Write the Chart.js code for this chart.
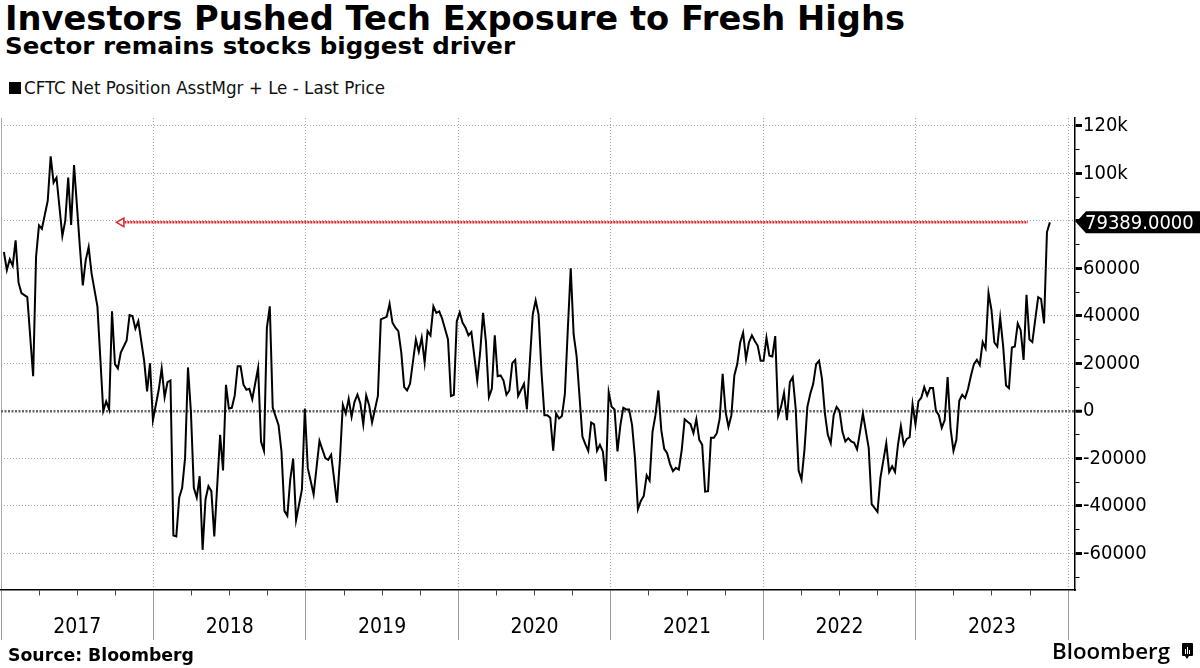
<!DOCTYPE html>
<html>
<head>
<meta charset="utf-8">
<script src="https://cdn.jsdelivr.net/npm/chart.js@4.4.0/dist/chart.umd.min.js"></script>
<style>
  body { margin: 0; width: 1200px; height: 668px; position: relative; overflow: hidden; background: #fff; font-family: "DejaVu Sans", sans-serif; color: #000; }
  .txt { position: absolute; white-space: nowrap; transform-origin: 0 0; }
  #title { left: 5px; top: 2px; font-size: 33px; line-height: 33px; font-weight: bold; }
  #subtitle { left: 5px; top: 35px; font-size: 23px; line-height: 23px; font-weight: bold; }
  #legendBox { position: absolute; left: 9px; top: 82px; width: 12px; height: 12px; background: #000; }
  #legend { left: 24px; top: 80px; font-size: 17px; line-height: 17px; color: #111; }
  #source { left: 8px; top: 646px; font-size: 18px; line-height: 18px; font-weight: bold; }
  #brand { left: 1052px; top: 641px; font-family: "Open Sans", sans-serif; font-size: 21px; line-height: 21px; font-weight: 600; }
  #brandIcon { position: absolute; left: 1182px; top: 643px; }
  #wrap { position: absolute; left: 0; top: 105px; width: 1200px; height: 545px; }
</style>
</head>
<body>
<div id="title" class="txt" data-fit="900">Investors Pushed Tech Exposure to Fresh Highs</div>
<div id="subtitle" class="txt" data-fit="510">Sector remains stocks biggest driver</div>
<div id="legendBox"></div>
<div id="legend" class="txt" data-fit="361">CFTC Net Position AsstMgr + Le - Last Price</div>
<div id="wrap"><canvas id="chart" width="1200" height="545"></canvas></div>
<div id="source" class="txt" data-fit="186">Source: Bloomberg</div>
<div id="brand" class="txt" data-fit="118">Bloomberg</div>
<svg id="brandIcon" width="11" height="17" viewBox="0 0 11 17">
  <path d="M1 0h9a1 1 0 0 1 1 1v11a1 1 0 0 1-1 1H7l-2 3-2-3H1a1 1 0 0 1-1-1V1a1 1 0 0 1 1-1z" fill="#000"/>
  <rect x="3" y="6" width="1" height="5" fill="#fff"/>
  <rect x="5" y="4" width="1" height="7" fill="#fff"/>
  <rect x="7" y="7" width="1" height="4" fill="#fff"/>
</svg>
<script>
// weekly CFTC readings, x = weeks since 1 Jan 2017
const weekIndex = [
  1, 2, 3, 4, 5, 6, 7, 9, 11, 12,
  13, 14, 16, 17, 18, 19, 21, 22, 23, 24,
  25, 27, 28, 29, 30, 31, 33, 35, 36, 37,
  38, 39, 40, 41, 43, 44, 45, 46, 47, 49,
  50, 51, 52, 54, 55, 56, 57, 58, 59, 60,
  61, 62, 63, 64, 65, 66, 67, 68, 69, 70,
  71, 72, 73, 75, 76, 77, 78, 79, 80, 81,
  82, 83, 84, 85, 86, 88, 89, 90, 91, 92,
  93, 95, 96, 97, 98, 99, 100, 101, 103, 104,
  105, 107, 109, 111, 112, 113, 115, 116, 117, 118,
  119, 120, 121, 122, 123, 124, 125, 126, 127, 129,
  130, 132, 133, 134, 135, 136, 137, 138, 139, 140,
  142, 143, 144, 145, 146, 147, 148, 149, 150, 151,
  153, 154, 155, 156, 157, 158, 159, 160, 161, 162,
  163, 164, 165, 166, 167, 168, 169, 170, 171, 172,
  173, 174, 175, 176, 177, 179, 180, 182, 183, 184,
  185, 186, 187, 188, 189, 190, 191, 192, 193, 194,
  195, 196, 197, 199, 200, 201, 202, 203, 204, 205,
  206, 207, 208, 209, 210, 211, 212, 213, 214, 215,
  216, 217, 218, 219, 220, 221, 222, 223, 224, 225,
  226, 227, 228, 229, 230, 231, 232, 233, 234, 235,
  236, 237, 238, 239, 240, 241, 242, 243, 244, 245,
  246, 247, 248, 249, 250, 251, 252, 253, 254, 255,
  256, 257, 258, 259, 260, 261, 262, 263, 264, 265,
  266, 267, 268, 269, 270, 271, 272, 273, 274, 275,
  276, 277, 278, 279, 280, 281, 282, 283, 284, 285,
  286, 287, 288, 289, 290, 291, 292, 293, 294, 295,
  297, 298, 300, 301, 303, 304, 305, 306, 307, 308,
  309, 310, 311, 312, 313, 314, 315, 316, 317, 318,
  319, 320, 321, 322, 323, 324, 325, 326, 327, 328,
  329, 330, 331, 332, 333, 334, 335, 336, 337, 338,
  339, 340, 341, 342, 343, 344, 345, 346, 347, 348,
  349, 350, 351, 352, 353, 354, 355, 356, 357, 358,
  359
]
const netPosition = [
  66900, 59300, 63900, 61100, 71800, 54000, 49600, 47900, 14600, 64900,
  78100, 76700, 88500, 107200, 96100, 98200, 73600, 80100, 98200, 78300,
  103500, 69000, 52800, 63500, 69000, 57900, 44000, 0, 4000, 600,
  41900, 19700, 17900, 24600, 29700, 40300, 39900, 34600, 37800, 21100,
  8200, 20000, -3900, 9000, 17900, 5800, 12100, 12800, -52500, -52900,
  -36500, -32400, -19900, 18300, -400, -32400, -36500, -27500, -58500, -37200,
  -31700, -33800, -52900, -10100, -25100, 11000, 1000, 1300, 6500, 18800,
  18800, 11000, 8900, 9300, 4900, 18100, -12900, -16800, 35000, 44000,
  1400, -6000, -17100, -42100, -44200, -28900, -20100, -46000, -33100, 1000,
  -24000, -35100, -12600, -19900, -20600, -18500, -38600, -20600, 2600, -1100,
  5100, -2500, 3800, 6800, 3100, -5700, 6500, 2400, -4900, 6300,
  38500, 39600, 45100, 37100, 35000, 33600, 24600, 10000, 8600, 11400,
  30100, 24900, 30800, 20400, 33600, 31800, 44000, 41300, 41900, 38800,
  30100, 6300, 6800, 37800, 41500, 37100, 35000, 31800, 33200, 23200,
  12800, 24600, 41300, 28800, 5800, 9300, 31800, 14600, 14900, 12800,
  6800, 8600, 20100, 21500, 6300, 11400, 600, 40600, 46500, 40600,
  16300, -1800, -1800, -2900, -16800, -1100, -3200, -2100, 7200, 34300,
  60000, 32200, 23200, -10800, -14000, -16800, -4900, -5700, -16800, -14300,
  -17100, -29600, 7900, 1700, 600, -17100, -6000, 1300, 600, 600,
  -6000, -19900, -41400, -37900, -35800, -27100, -29300, -8800, -1800, 8600,
  -8100, -16000, -17800, -22400, -25400, -24000, -24700, -16400, -3500, -4600,
  -5600, -9400, -3500, -12200, -14300, -34000, -33800, -11300, -11300, -9400,
  -3200, 15600, -400, -6700, -1800, 14900, 19700, 28800, 32900, 21800,
  28800, 31800, 29400, 27400, 21100, 21100, 30800, 23200, 22900, 31500,
  -2100, 1700, 7600, -3900, 12100, 14200, 1000, -25100, -28900, -16400,
  1700, 7200, 11400, 19700, 21100, 13500, -1100, -10100, -13600, -1800,
  1700, 0, -8800, -12900, -11500, -12900, -13400, -16200, -9000, -1100,
  -15700, -39300, -42500, -28200, -13600, -25700, -23300, -25700, -14300, -6400,
  -14300, -11800, -11100, 2800, -5700, 4000, 5600, 10000, 6500, 9600,
  9600, 0, -1800, -7100, -3900, 14200, -7400, -16800, -12200, 4400,
  6800, 5400, 9300, 14900, 19700, 21500, 19300, 29000, 26300, 49600,
  42600, 28800, 27100, 39200, 27400, 10700, 9600, 26700, 27100, 36800,
  34000, 21500, 48900, 30100, 29000, 38500, 47900, 47100, 36800, 75300,
  79389
]
const yearLabels = ['2017', '2018', '2019', '2020', '2021', '2022', '2023']
const yTickValues = [-70000, -60000, -50000, -40000, -30000, -20000, -10000, 0, 10000, 20000,
  30000, 40000, 50000, 60000, 70000, 80000, 90000, 100000, 110000, 120000]
// dotted "last seen at this level" line
const refLineWeeks = [41.2, 351.5]

const WEEKS_PER_YEAR = 52.1786
const lastValue = netPosition[netPosition.length - 1]

function hasFont(name) {
  const c = document.createElement('canvas').getContext('2d')
  const s = '0123456789 abcdefghijklm'
  let diff = false
  for (const fb of ['monospace', 'serif']) {
    c.font = '40px ' + fb
    const a = c.measureText(s).width
    c.font = '40px "' + name + '", ' + fb
    if (c.measureText(s).width !== a) diff = true
  }
  return diff
}
const axisFont = hasFont('DejaVu Sans Condensed') ? '"DejaVu Sans Condensed"' : '"Liberation Sans"'
document.getElementById('legend').style.fontFamily = axisFont + ', "DejaVu Sans"'

// squeeze text boxes to the widths of the original
document.querySelectorAll('[data-fit]').forEach(el => {
  const w = el.getBoundingClientRect().width
  el.style.transform = 'scaleX(' + (Number(el.dataset.fit) / w) + ')'
})

// 0 = year boundary, 2 = mid-year (label), 1/3 = quarter
function tickKind(v) {
  return ((Math.round(v / WEEKS_PER_YEAR * 4) % 4) + 4) % 4
}

const lastPriceTag = {
  id: 'lastPriceTag',
  afterDraw(chart) {
    const ctx = chart.ctx
    const ys = chart.scales.y
    const y = ys.getPixelForValue(lastValue)
    const x = ys.left + 1
    ctx.save()
    ctx.fillStyle = '#000'
    ctx.beginPath()
    ctx.moveTo(x, y)
    ctx.lineTo(x + 10, y - 11)
    ctx.lineTo(chart.width, y - 11)
    ctx.lineTo(chart.width, y + 11)
    ctx.lineTo(x + 10, y + 11)
    ctx.closePath()
    ctx.fill()
    ctx.fillStyle = '#fff'
    ctx.font = '20px ' + axisFont
    ctx.textBaseline = 'middle'
    ctx.fillText(lastValue.toFixed(4), x + 9, y + 1)
    ctx.restore()
  }
}

new Chart(document.getElementById('chart'), {
  type: 'line',
  data: {
    datasets: [{
      label: 'CFTC Net Position AsstMgr + Le - Last Price',
      data: weekIndex.map((w, i) => ({ x: w, y: netPosition[i] })),
      borderColor: '#000',
      borderWidth: 2,
      pointRadius: 0,
      tension: 0
    }, {
      label: 'ref',
      data: refLineWeeks.map(w => ({ x: w, y: lastValue })),
      borderColor: '#e0242c',
      borderWidth: 2.5,
      borderDash: [2, 1],
      pointRadius: [5, 0],
      pointStyle: 'triangle',
      pointRotation: -90,
      pointBorderColor: '#e0242c',
      pointBackgroundColor: '#fff',
      pointBorderWidth: 1.5
    }]
  },
  options: {
    responsive: false,
    animation: false,
    devicePixelRatio: 1,
    layout: { autoPadding: false, padding: { top: 8, left: 1, right: 0, bottom: 0 } },
    plugins: { legend: { display: false }, tooltip: { enabled: false } },
    scales: {
      x: {
        type: 'linear',
        min: 0,
        max: 367.6,
        afterBuildTicks: scale => {
          const t = []
          for (let k = 0; k <= yearLabels.length; k++) {
            t.push({ value: k * WEEKS_PER_YEAR })
            if (k < yearLabels.length) {
              [0.25, 0.5, 0.75].forEach(q => t.push({ value: (k + q) * WEEKS_PER_YEAR }))
            }
          }
          scale.ticks = t
        },
        afterFit: scale => { scale.height = 60 },
        grid: {
          color: c => tickKind(c.tick.value) === 0 ? '#a8a8a8' : 'rgba(0,0,0,0)',
          lineWidth: 1,
          tickLength: 50,
          tickColor: c => tickKind(c.tick.value) === 0 ? '#9a9a9a' : '#444',
          tickBorderDash: c => tickKind(c.tick.value) === 0 ? [] : [5, 100]
        },
        border: {
          display: true,
          color: '#000',
          width: 1.5,
          dash: c => (c.tick && c.tick.value !== 0) ? [1, 2] : []
        },
        ticks: {
          autoSkip: false,
          maxRotation: 0,
          padding: -25,
          color: '#000',
          font: { family: axisFont, size: 21 },
          callback: v => tickKind(v) === 2 ? yearLabels[Math.floor(v / WEEKS_PER_YEAR)] : ''
        }
      },
      y: {
        position: 'right',
        min: -75420,
        max: 123330,
        afterBuildTicks: scale => { scale.ticks = yTickValues.map(v => ({ value: v })) },
        afterFit: scale => { scale.width = 125 },
        grid: {
          color: c => c.tick.value === 0 ? '#666' : (c.tick.value % 20000 === 0 ? '#a8a8a8' : 'rgba(0,0,0,0)'),
          lineWidth: c => c.tick.value === 0 ? 2.5 : 1,
          tickLength: 7,
          tickColor: '#000',
          tickWidth: c => c.tick.value % 20000 === 0 ? 3 : 1,
          tickBorderDash: c => c.tick.value % 20000 === 0 ? [] : [4, 20]
        },
        border: {
          display: true,
          color: '#000',
          width: 1.5,
          dash: c => !c.tick ? [] : (c.tick.value === 0 ? [2, 1.5] : [1, 2])
        },
        ticks: {
          autoSkip: false,
          padding: 1,
          color: '#000',
          font: { family: axisFont, size: 20 },
          callback: v => {
            if (v % 20000 !== 0 || v === 80000) return ''
            return v >= 100000 ? (v / 1000) + 'k' : String(v)
          }
        }
      }
    }
  },
  plugins: [lastPriceTag]
})
</script>
</body>
</html>
